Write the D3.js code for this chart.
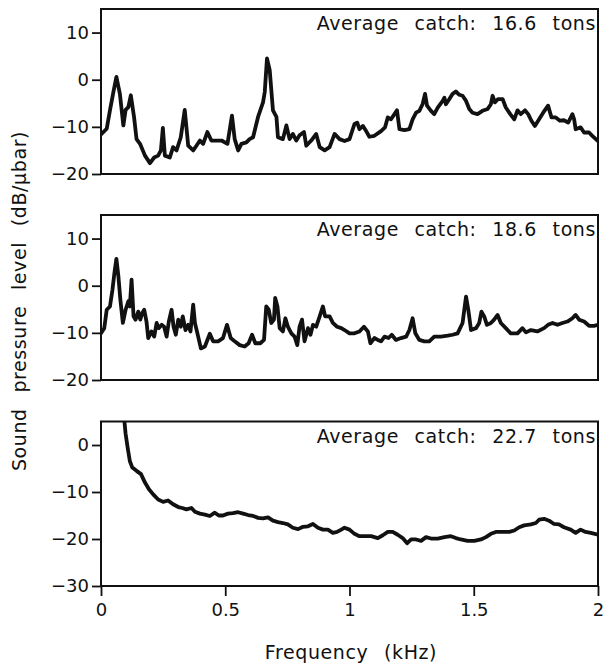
<!DOCTYPE html>
<html>
<head>
<meta charset="utf-8">
<script src="https://cdn.jsdelivr.net/npm/d3@7"></script>
<style>
  html, body { margin: 0; padding: 0; background: #fff; }
  svg { display: block; }
  text { font-family: "DejaVu Sans", sans-serif; fill: #111; }
</style>
</head>
<body>
<svg id="chart" width="605" height="665"></svg>
<script>
// ---------------- data (frequency in kHz, level in dB re 1 µbar) ----------------
const freq1 = [0,0.023,0.036,0.050,0.062,0.076,0.090,0.099,0.110,0.120,0.133,0.143,0.157,0.177,0.197,0.214,0.230,0.241,0.249,0.257,0.277,0.290,0.304,0.321,0.337,0.351,0.371,0.384,0.398,0.411,0.428,0.444,0.465,0.485,0.509,0.527,0.538,0.552,0.565,0.585,0.598,0.612,0.632,0.652,0.659,0.668,0.679,0.692,0.706,0.712,0.732,0.746,0.759,0.772,0.786,0.799,0.817,0.826,0.846,0.866,0.880,0.900,0.920,0.940,0.960,
  0.980,1.000,1.020,1.031,1.040,1.054,1.067,1.080,1.100,1.127,1.143,1.154,1.167,1.181,1.191,1.201,1.221,1.241,1.254,1.268,1.281,1.294,1.304,1.312,1.328,1.341,1.355,1.375,1.382,1.388,1.402,1.415,1.428,1.442,1.455,1.469,1.482,1.495,1.515,1.535,1.556,1.569,1.576,1.585,1.598,1.616,1.629,1.647,1.663,1.676,1.689,1.706,1.719,1.732,1.746,1.763,1.783,1.799,1.813,1.830,1.847,1.863,1.880,1.897,1.904,1.910,1.930,1.944,1.964,1.977,2.000];
const level1 = [-11.6,-10.4,-6.5,-2.6,0.6,-3.0,-9.7,-6.4,-5.8,-3.3,-7.9,-12.6,-13.6,-16.1,-17.7,-16.5,-16.1,-15.0,-10.2,-16.1,-16.5,-14.3,-15.0,-12.2,-6.4,-14.0,-15.0,-14.0,-12.9,-13.6,-11.1,-12.9,-12.9,-12.9,-13.6,-7.6,-12.6,-15.0,-13.6,-13.3,-12.6,-12.2,-7.9,-4.8,-2.6,4.5,2.0,-6.5,-7.9,-12.2,-12.6,-9.7,-12.6,-11.5,-12.9,-11.8,-11.1,-14.0,-12.9,-11.5,-14.3,-15.0,-14.3,-11.5,-12.6,
  -13.0,-12.6,-9.4,-9.1,-10.5,-9.8,-10.9,-12.1,-11.9,-10.9,-10.1,-8.0,-8.4,-7.3,-6.5,-10.5,-10.7,-10.5,-8.4,-7.0,-6.6,-5.2,-3.0,-5.5,-6.6,-7.3,-5.9,-4.5,-3.8,-5.2,-4.1,-3.0,-2.5,-3.2,-3.4,-4.5,-6.2,-7.0,-7.3,-6.6,-6.2,-5.2,-3.4,-4.8,-4.1,-4.1,-5.9,-7.3,-8.4,-6.5,-7.3,-6.5,-7.3,-8.7,-9.8,-8.4,-6.7,-5.5,-8.0,-8.0,-8.7,-8.6,-9.1,-7.3,-8.4,-10.5,-10.1,-11.2,-11.2,-11.9,-13.0];

const freq2 = [0,0.013,0.023,0.036,0.046,0.054,0.062,0.070,0.078,0.088,0.099,0.110,0.116,0.123,0.131,0.139,0.150,0.158,0.166,0.174,0.183,0.190,0.203,0.214,0.224,0.233,0.244,0.254,0.264,0.273,0.284,0.292,0.301,0.311,0.321,0.329,0.340,0.351,0.360,0.371,0.378,0.388,0.402,0.418,0.438,0.451,0.471,0.491,0.507,0.522,0.538,0.558,0.578,0.594,0.608,0.621,0.641,0.656,0.665,0.675,0.685,0.696,0.701,0.710,0.719,0.732,0.742,0.752,0.766,0.779,0.790,0.799,0.809,0.819,0.833,0.843,0.853,0.866,0.880,0.893,0.902,0.920,0.933,0.950,0.967,
  0.980,1.000,1.020,1.040,1.058,1.074,1.084,1.100,1.114,1.127,1.141,1.157,1.170,1.187,1.207,1.228,1.241,1.254,1.265,1.281,1.301,1.321,1.341,1.368,1.395,1.415,1.435,1.455,1.469,1.478,1.489,1.509,1.522,1.531,1.542,1.553,1.569,1.582,1.596,1.609,1.629,1.649,1.676,1.696,1.710,1.730,1.756,1.783,1.799,1.817,1.837,1.857,1.877,1.897,1.910,1.924,1.944,1.964,1.984,2.000];
const level2 = [-10.1,-9.0,-5.1,-4.4,-0.9,2.7,5.7,2.0,-3.0,-7.9,-5.1,-3.3,-4.4,1.3,-6.5,-7.2,-5.5,-7.2,-5.8,-5.1,-7.6,-11.1,-9.7,-10.8,-7.9,-9.0,-8.3,-8.7,-10.8,-7.6,-5.1,-8.7,-10.4,-7.2,-8.7,-6.5,-9.4,-8.3,-9.7,-4.0,-7.9,-10.1,-13.3,-12.9,-10.2,-11.8,-11.8,-11.1,-8.3,-11.1,-11.8,-12.6,-12.9,-12.2,-10.4,-12.2,-12.2,-11.5,-4.4,-5.1,-7.9,-7.2,-2.6,-4.4,-9.0,-9.7,-6.9,-8.7,-10.1,-10.8,-12.6,-8.7,-7.2,-11.8,-9.0,-10.4,-8.3,-8.7,-6.5,-4.4,-6.5,-6.5,-7.9,-8.7,-9.0,
  -9.4,-10.1,-10.1,-9.7,-8.7,-9.7,-12.2,-11.1,-11.5,-11.8,-10.8,-11.1,-10.4,-11.5,-11.1,-10.8,-9.4,-6.9,-10.1,-11.5,-11.8,-11.8,-10.8,-10.8,-10.6,-10.4,-10.1,-7.9,-2.3,-5.1,-9.4,-9.0,-7.9,-5.5,-6.5,-8.3,-7.9,-7.2,-6.2,-7.9,-9.0,-10.1,-10.1,-9.0,-9.9,-9.4,-9.7,-9.0,-8.3,-7.9,-8.3,-7.9,-7.6,-6.9,-6.2,-7.2,-7.6,-8.5,-8.5,-8.3];

const freq3 = [0.070,0.085,0.094,0.099,0.107,0.116,0.126,0.143,0.161,0.177,0.193,0.210,0.230,0.250,0.270,0.290,0.311,0.327,0.344,0.364,0.378,0.398,0.418,0.438,0.458,0.474,0.491,0.511,0.531,0.552,0.572,0.592,0.612,0.632,0.652,0.672,0.692,0.712,0.732,0.752,0.772,0.793,0.813,0.833,0.853,0.873,0.893,0.913,0.933,0.950,0.967,
  0.980,1.000,1.020,1.040,1.060,1.087,1.114,1.134,1.154,1.174,1.194,1.214,1.232,1.248,1.268,1.288,1.308,1.328,1.355,1.382,1.408,1.428,1.448,1.475,1.502,1.529,1.549,1.569,1.589,1.616,1.643,1.663,1.683,1.703,1.730,1.750,1.763,1.783,1.803,1.823,1.843,1.863,1.890,1.910,1.930,1.950,1.971,2.000];
const level3 = [12.0,7.5,5.2,2.4,-0.5,-3.4,-4.8,-5.5,-6.2,-8.0,-9.4,-10.5,-11.6,-12.1,-11.8,-12.6,-13.2,-13.4,-13.7,-13.4,-14.2,-14.6,-14.8,-15.1,-14.4,-15.0,-15.0,-14.6,-14.5,-14.3,-14.6,-14.9,-15.1,-15.5,-15.6,-15.4,-16.1,-16.4,-16.6,-16.9,-17.6,-17.9,-17.4,-17.3,-16.8,-17.6,-18.0,-18.0,-18.7,-18.5,-18.0,
  -17.6,-18.0,-18.9,-19.4,-19.4,-19.4,-19.8,-19.2,-18.5,-18.5,-19.1,-19.8,-20.9,-20.1,-20.1,-20.4,-19.6,-19.9,-19.9,-19.6,-19.4,-19.8,-20.1,-20.4,-20.4,-20.1,-19.6,-18.9,-18.5,-18.5,-18.5,-18.2,-17.5,-17.1,-16.9,-16.6,-15.9,-15.7,-16.1,-16.8,-16.9,-17.5,-18.0,-18.7,-18.0,-18.5,-18.7,-19.1];

const panelLabels = ["Average catch: 16.6 tons", "Average catch: 18.6 tons", "Average catch: 22.7 tons"];
const yDomains = [[-20, 15], [-20, 15], [-30, 5]];
const yTicks = [[10, 0, -10, -20], [10, 0, -10, -20], [0, -10, -20, -30]];
const xTicks = [0, 0.5, 1, 1.5, 2];
const xTickLabels = ["0", "0.5", "1", "1.5", "2"];
const xTitle = "Frequency (kHz)";
const yTitle = "Sound pressure level (dB/\u03BCbar)";

// ---------------- layout ----------------
const svg = d3.select("#chart");
const left = 101, right = 598;
const panelTops = [9, 215, 421.5];
const panelBottoms = [174, 380, 586];
const series = [[freq1, level1], [freq2, level2], [freq3, level3]];

const x = d3.scaleLinear().domain([0, 2]).range([left, right]);

series.forEach((s, i) => {
  const y = d3.scaleLinear().domain(yDomains[i]).range([panelBottoms[i], panelTops[i]]);
  const g = svg.append("g");

  const clipId = "clip" + i;
  svg.append("clipPath").attr("id", clipId).append("rect")
    .attr("x", left).attr("y", panelTops[i])
    .attr("width", right - left).attr("height", panelBottoms[i] - panelTops[i]);

  const data = s[0].map((f, k) => [f, s[1][k]]);
  const line = d3.line().x(d => x(d[0])).y(d => y(d[1]));
  g.append("path").datum(data)
    .attr("clip-path", `url(#${clipId})`)
    .attr("d", line)
    .attr("fill", "none").attr("stroke", "#111")
    .attr("stroke-width", 3.8)
    .attr("stroke-linejoin", "round").attr("stroke-linecap", "round");

  // frame
  g.append("rect")
    .attr("x", left).attr("y", panelTops[i])
    .attr("width", right - left).attr("height", panelBottoms[i] - panelTops[i])
    .attr("fill", "none").attr("stroke", "#111").attr("stroke-width", 2);

  // y axis
  const ya = g.append("g").attr("transform", `translate(${left},0)`)
    .call(d3.axisLeft(y).tickValues(yTicks[i]).tickSize(9).tickPadding(3));
  ya.select(".domain").remove();
  ya.selectAll(".tick line").attr("stroke", "#111").attr("stroke-width", 1.8);
  ya.selectAll(".tick text").attr("font-size", 18).attr("font-family", "DejaVu Sans, sans-serif").attr("fill", "#111");

  // annotation
  g.append("text")
    .attr("x", 596).attr("y", panelTops[i] + 21)
    .attr("text-anchor", "end")
    .attr("font-size", 19)
    .style("letter-spacing", "0.6px").style("word-spacing", "9px")
    .text(panelLabels[i]);

  if (i === 2) {
    const xa = g.append("g").attr("transform", `translate(0,${panelBottoms[i]})`)
      .call(d3.axisBottom(x).tickValues(xTicks).tickFormat((d, k) => xTickLabels[k]).tickSize(10).tickPadding(7));
    xa.select(".domain").remove();
    xa.selectAll(".tick line").attr("stroke", "#111").attr("stroke-width", 1.8);
    xa.selectAll(".tick text").attr("font-size", 18).attr("font-family", "DejaVu Sans, sans-serif").attr("fill", "#111");
  }
});

svg.append("text")
  .attr("x", 351).attr("y", 659)
  .attr("text-anchor", "middle").attr("font-size", 19)
  .style("letter-spacing", "0.6px").style("word-spacing", "9px")
  .text(xTitle);

svg.append("text")
  .attr("transform", "translate(26,301) rotate(-90)")
  .attr("text-anchor", "middle").attr("font-size", 19)
  .style("letter-spacing", "0.6px").style("word-spacing", "9px")
  .text(yTitle);
</script>
</body>
</html>
